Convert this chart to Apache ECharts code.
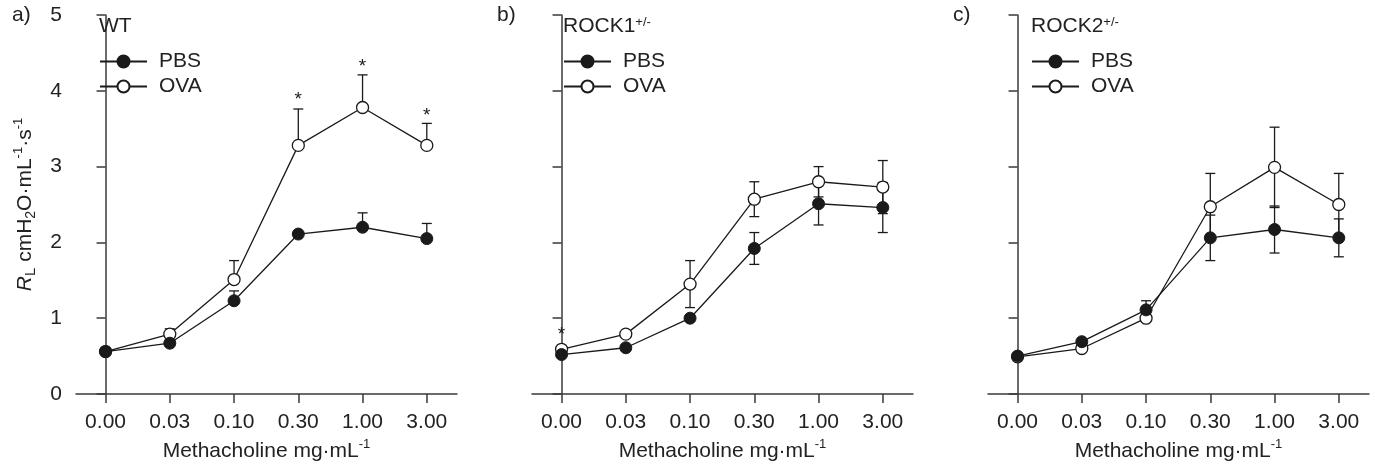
<!DOCTYPE html>
<html>
<head>
<meta charset="utf-8">
<script src="https://cdn.jsdelivr.net/npm/echarts@6/dist/echarts.min.js"></script>
<style>
html,body{margin:0;padding:0;background:#fff;}
#chart{width:1375px;height:464px;}
</style>
</head>
<body>
<div id="chart"></div>
<script>
// ---- data ----
const xLabels = ['0.00','0.03','0.10','0.30','1.00','3.00'];
const yTicks = [0,1,2,3,4,5];
const panelLabels = ['a)','b)','c)'];
const panelTitles = ['WT','ROCK1{sup|+/-}','ROCK2{sup|+/-}'];

const aPBS    = [0.56,0.67,1.23,2.11,2.20,2.05];
const aPBSerr = [0,0,0.13,0,0.19,0.20];
const aOVA    = [0.56,0.79,1.51,3.28,3.78,3.28];
const aOVAerr = [0,0.07,0.25,0.48,0.43,0.29];
const aStars  = [null,null,null,3.93,4.37,3.73];

const bPBS    = [0.52,0.61,1.00,1.92,2.51,2.46];
const bPBSerr = [0,0,0.04,0.21,0.28,0.33];
const bOVA    = [0.59,0.79,1.45,2.57,2.80,2.73];
const bOVAerr = [0,0,0.31,0.23,0.20,0.35];
const bStars  = [0.83,null,null,null,null,null];

const cPBS    = [0.50,0.69,1.11,2.06,2.17,2.06];
const cPBSerr = [0,0,0.12,0.30,0.31,0.25];
const cOVA    = [0.49,0.60,1.00,2.47,2.99,2.50];
const cOVAerr = [0,0,0,0.44,0.53,0.41];
const cStars  = [null,null,null,null,null,null];

const panels = [
  {pbs:aPBS, pbsErr:aPBSerr, ova:aOVA, ovaErr:aOVAerr, stars:aStars, upperOnly:true},
  {pbs:bPBS, pbsErr:bPBSerr, ova:bOVA, ovaErr:bOVAerr, stars:bStars, upperOnly:false},
  {pbs:cPBS, pbsErr:cPBSerr, ova:cOVA, ovaErr:cOVAerr, stars:cStars, upperOnly:false}
];

// ---- layout ----
const FONT = 'Liberation Sans, Arial, sans-serif';
const gridLefts = [76, 532, 988];
const labelLefts = [12, 497, 953];
const titleLefts = [99, 563, 1031];
const gridWidth = 381;
const gridTop = 15, gridHeight = 379;
const AXIS = '#3a3a3a';
const INK = '#1a1a1a';
const TXT = '#222';
const FS = 21;

const supRich = {
  sup:{fontSize:13, lineHeight:12, verticalAlign:'top', fontFamily:FONT, color:TXT},
  sub:{fontSize:14, lineHeight:12, verticalAlign:'bottom', fontFamily:FONT, color:TXT},
  it:{fontSize:FS, fontStyle:'italic', fontFamily:FONT, color:TXT, lineHeight:26},
  sm:{fontSize:15, fontFamily:FONT, color:TXT, lineHeight:12, verticalAlign:'bottom'},
  n:{fontSize:FS, fontFamily:FONT, color:TXT, lineHeight:26}
};

const grid = [], xAxis = [], yAxis = [], series = [], title = [], legend = [];

function errRender(upperOnly){
  return function(params, api){
    const x = api.value(0), y = api.value(1), e = api.value(2);
    if (!e) return null;
    const top = api.coord([x, y + e]);
    const bot = upperOnly ? api.coord([x, y]) : api.coord([x, y - e]);
    const w = 5;
    const st = {stroke:INK, lineWidth:1.3};
    const children = [
      {type:'line', shape:{x1:top[0], y1:top[1], x2:bot[0], y2:bot[1]}, style:st},
      {type:'line', shape:{x1:top[0]-w, y1:top[1], x2:top[0]+w, y2:top[1]}, style:st}
    ];
    if (!upperOnly) children.push({type:'line', shape:{x1:bot[0]-w, y1:bot[1], x2:bot[0]+w, y2:bot[1]}, style:st});
    return {type:'group', children};
  };
}

function starRender(params, api){
  const p = api.coord([api.value(0), api.value(1)]);
  return {type:'text', x:p[0], y:p[1] + 4, style:{text:'*', fontSize:19, fontFamily:FONT, fill:INK, align:'center', verticalAlign:'middle'}};
}

panels.forEach((pn, i) => {
  grid.push({left:gridLefts[i], top:gridTop, width:gridWidth, height:gridHeight, containLabel:false, outerBoundsMode:'none'});
  xAxis.push({
    type:'value', gridIndex:i, min:-0.46, max:5.47,
    axisLine:{show:true, lineStyle:{color:AXIS, width:1.5}},
    axisTick:{show:true, customValues:[0,1,2,3,4,5], length:9, inside:false, lineStyle:{color:AXIS, width:1.5}},
    axisLabel:{show:true, customValues:[0,1,2,3,4,5], margin:18, fontSize:FS, fontFamily:FONT, color:TXT,
      formatter:(v)=>xLabels[Math.round(v)]},
    splitLine:{show:false},
    name:'{n|Methacholine mg·mL}{sup|-1}', nameLocation:'middle', nameGap:44,
    nameTextStyle:{fontSize:FS, fontFamily:FONT, color:TXT, rich:supRich}
  });
  yAxis.push({
    type:'value', gridIndex:i, min:0, max:5, interval:1,
    axisLine:{show:true, lineStyle:{color:AXIS, width:1.5}},
    axisTick:{show:true, length:9, inside:false, lineStyle:{color:AXIS, width:1.5}},
    axisLabel:{show:i===0, margin:14, fontSize:FS, fontFamily:FONT, color:TXT},
    splitLine:{show:false},
    name: i===0 ? '{it|R}{sm|L}{n| cmH}{sub|2}{n|O·mL}{sup|-1}{n|·s}{sup|-1}' : '',
    nameLocation:'middle', nameGap:38, nameRotate:90,
    nameTextStyle:{fontSize:FS, fontFamily:FONT, color:TXT, rich:supRich}
  });
  title.push({text:panelLabels[i], left:labelLefts[i], top:5, padding:0,
    textStyle:{fontSize:FS, fontWeight:'normal', fontFamily:FONT, color:TXT}});
  title.push({text:panelTitles[i], left:titleLefts[i], top:16, padding:0,
    textStyle:{fontSize:FS, fontWeight:'normal', fontFamily:FONT, color:TXT, rich:supRich}});
  legend.push({
    orient:'vertical', left:titleLefts[i], top:51, padding:0,
    itemWidth:47, itemHeight:15, itemGap:4,
    data:['PBS','OVA'],
    textStyle:{fontSize:FS, fontFamily:FONT, color:TXT, padding:[0,0,0,7]}
  });
  const mk = (arr) => arr.map((v, k) => [k, v]);
  const mkE = (arr, err) => arr.map((v, k) => [k, v, err[k]]);
  series.push({type:'custom', name:'errOVA'+i, xAxisIndex:i, yAxisIndex:i, z:1,
    renderItem:errRender(pn.upperOnly), data:mkE(pn.ova, pn.ovaErr), silent:true});
  series.push({type:'custom', name:'errPBS'+i, xAxisIndex:i, yAxisIndex:i, z:1,
    renderItem:errRender(pn.upperOnly), data:mkE(pn.pbs, pn.pbsErr), silent:true});
  series.push({type:'line', name:'OVA', xAxisIndex:i, yAxisIndex:i, z:2,
    data:mk(pn.ova), symbol:'circle', symbolSize:12, showAllSymbol:true,
    lineStyle:{color:INK, width:1.3}, itemStyle:{color:'#fff', borderColor:INK, borderWidth:1.3},
    emphasis:{disabled:true}, animation:false});
  series.push({type:'line', name:'PBS', xAxisIndex:i, yAxisIndex:i, z:3,
    data:mk(pn.pbs), symbol:'circle', symbolSize:12, showAllSymbol:true,
    lineStyle:{color:INK, width:1.3}, itemStyle:{color:INK, borderColor:INK, borderWidth:1},
    emphasis:{disabled:true}, animation:false});
  series.push({type:'custom', name:'stars'+i, xAxisIndex:i, yAxisIndex:i, z:4,
    renderItem:starRender, data:pn.stars.map((v,k)=>[k,v]).filter(d=>d[1]!==null), silent:true});
});

const chart = echarts.init(document.getElementById('chart'), null, {renderer:'canvas'});
chart.setOption({
  animation:false,
  backgroundColor:'#fff',
  title, legend, grid, xAxis, yAxis, series
});
</script>
</body>
</html>
